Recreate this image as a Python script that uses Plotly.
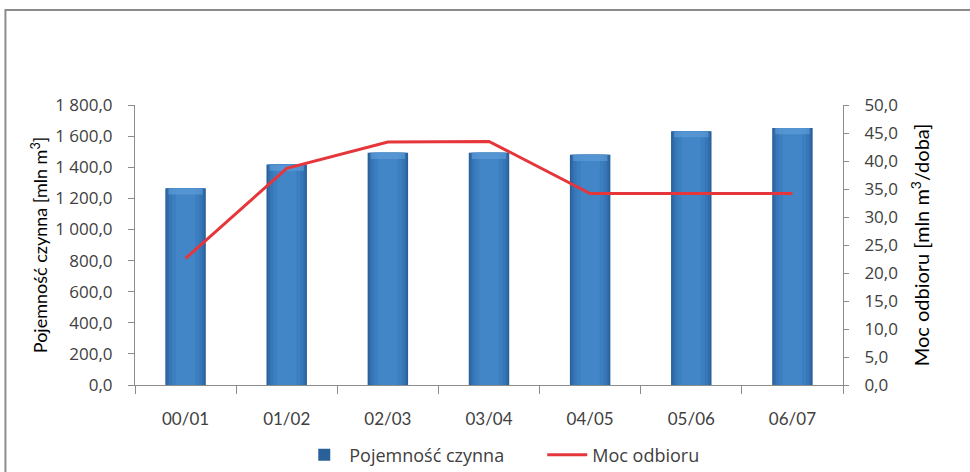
import plotly.graph_objects as go

# Sezony i dane
sezony = ["00/01", "01/02", "02/03", "03/04", "04/05", "05/06", "06/07"]
pojemnosc = [1265, 1418, 1493, 1493, 1480, 1632, 1652]      # mln m3
moc_odbioru = [22.6, 38.7, 43.4, 43.5, 34.2, 34.2, 34.2]    # mln m3/doba

left_ticks = [0, 200, 400, 600, 800, 1000, 1200, 1400, 1600, 1800]
left_labels = ["0,0", "200,0", "400,0", "600,0", "800,0", "1 000,0",
               "1 200,0", "1 400,0", "1 600,0", "1 800,0"]
right_ticks = [0, 5, 10, 15, 20, 25, 30, 35, 40, 45, 50]
right_labels = ["0,0", "5,0", "10,0", "15,0", "20,0", "25,0", "30,0",
                "35,0", "40,0", "45,0", "50,0"]

FONT = "'Open Sans', Lato, sans-serif"
FONT_NARROW = "Lato, 'Open Sans', sans-serif"
TXT = "#404040"
AX = "#8C8C8C"

fig = go.Figure()

# Cylindrical shading: overlaid bars of decreasing width, lighter towards the middle
shades = [
    (0.40, "#2A609A"),
    (0.37, "#316CAB"),
    (0.33, "#3776B7"),
    (0.27, "#3C7FC1"),
    (0.19, "#4286C7"),
]
for i, (w, c) in enumerate(shades):
    fig.add_trace(go.Bar(
        x=sezony, y=pojemnosc, width=w,
        marker=dict(color=c, line=dict(width=0)),
        name="Pojemność czynna", showlegend=(i == 0),
        legendrank=1,
    ))

# Soft bevel along the top of each bar
bevel = 40
fig.add_trace(go.Bar(
    x=sezony, y=[bevel] * len(pojemnosc), base=[v - bevel for v in pojemnosc],
    width=0.34, marker=dict(color="#62A0DA", opacity=0.6, line=dict(width=0)),
    showlegend=False, hoverinfo="skip",
))

fig.add_trace(go.Scatter(
    x=sezony, y=moc_odbioru, yaxis="y2", mode="lines",
    line=dict(color="#E5363B", width=3),
    name="Moc odbioru", legendrank=2,
))

fig.update_layout(
    width=970, height=472,
    margin=dict(l=135, r=127, t=105, b=87, autoexpand=False),
    paper_bgcolor="white", plot_bgcolor="white",
    barmode="overlay",
    font=dict(family=FONT, size=16, color=TXT),
    xaxis=dict(
        showline=True, linecolor=AX, linewidth=1,
        ticks="outside", ticklen=8, tickcolor=AX,
        tickson="boundaries", showgrid=False,
        ticklabelstandoff=19,
        tickfont=dict(family=FONT_NARROW, size=17, color=TXT),
    ),
    yaxis=dict(
        range=[0, 1800], tickvals=left_ticks, ticktext=left_labels,
        showline=True, linecolor=AX, linewidth=1,
        ticks="outside", ticklen=6, tickcolor=AX,
        showgrid=False, zeroline=False,
        ticklabelstandoff=12,
        tickfont=dict(family=FONT, size=17, color=TXT),
        title=dict(text="Pojemność czynna [mln m<sup>3</sup>]",
                   font=dict(family=FONT_NARROW, size=18, color="#000000"),
                   standoff=2),
    ),
    yaxis2=dict(
        range=[0, 50], tickvals=right_ticks, ticktext=right_labels,
        overlaying="y", side="right",
        showline=True, linecolor=AX, linewidth=1,
        ticks="outside", ticklen=5, tickcolor=AX,
        showgrid=False, zeroline=False,
        ticklabelstandoff=12,
        tickfont=dict(family=FONT, size=17, color=TXT),
        title=dict(text="Moc odbioru [mln m<sup>3</sup>/doba]",
                   font=dict(family=FONT_NARROW, size=20, color="#000000"),
                   standoff=18),
    ),
    legend=dict(
        orientation="h", x=0.232, xanchor="left", y=-0.25, yanchor="middle",
        font=dict(family=FONT, size=18, color=TXT), bgcolor="rgba(0,0,0,0)",
        itemwidth=40, entrywidth=188,
    ),
    shapes=[dict(
        type="rect", xref="paper", yref="paper",
        x0=-0.183, x1=1.3, y0=-0.6, y1=1.339,
        line=dict(color=AX, width=2), layer="below",
    )],
)

fig.write_html("out.html")
